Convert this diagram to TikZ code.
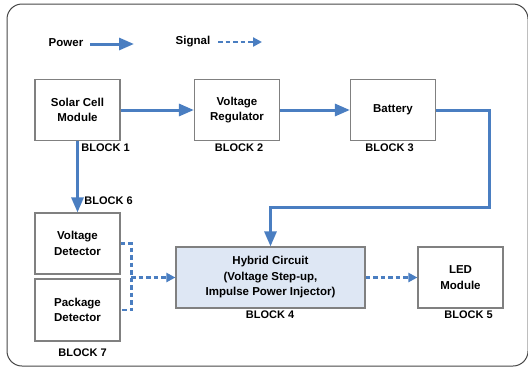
\documentclass[tikz,border=0pt]{standalone}
\usepackage{fontspec}
\setmainfont{Liberation Sans}
\usetikzlibrary{arrows.meta,positioning}
\definecolor{pwrblue}{RGB}{74,126,193}
\definecolor{hybfill}{RGB}{222,231,244}
\definecolor{boxgray}{RGB}{128,128,128}
\definecolor{framegray}{RGB}{70,70,70}
\tikzset{block/.style={draw=boxgray, line width=1.2pt, rectangle, minimum width=85pt, minimum height=61pt, inner sep=2pt, align=center, text=black, font=\fontsize{11.5}{15.5}\selectfont\bfseries},
  tag/.style={inner sep=0pt, font=\fontsize{11}{13}\selectfont\bfseries},
  power/.style={draw=pwrblue, line width=3pt, -{Triangle[length=15pt,width=12pt]}},
  signal/.style={draw=pwrblue, line width=2.3pt, dash pattern=on 4.5pt off 3pt, -{Triangle[length=9pt,width=9pt]}}}

\begin{document}
\begin{tikzpicture}[x=1pt,y=-1pt]
    \useasboundingbox (0,0) rectangle (528,368);
    \draw[framegray, line width=1pt, rounded corners=15pt] (7,4) rectangle (528,366);
    % legend
    \node[tag, font=\fontsize{11.5}{13}\selectfont\bfseries] (Lp) at (66,43) {Power};
    \node[tag, font=\fontsize{11.5}{13}\selectfont\bfseries] (Ls) at (193,42) {Signal};
    \coordinate (p1) at (90,44);  \coordinate (p2) at (134,44);
    \coordinate (s1) at (218,42); \coordinate (s2) at (262,42);
    \draw[power] (p1) -- (p2);
    \draw[signal] (s1) -- (s2);
    % blocks
    \node[block] (B1) at (77.5,110) {Solar Cell\\Module};
    \node[block] (B2) at (237,110) {Voltage\\Regulator};
    \node[block] (B3) at (393,110) {Battery};
    \node[block, fill=hybfill, minimum width=189pt] (B4) at (270.5,277.5) {Hybrid Circuit\\(Voltage Step-up,\\Impulse Power Injector)};
    \node[block] (B5) at (460.5,277.5) {LED\\Module};
    \node[block] (B6) at (77.5,243.5) {Voltage\\Detector};
    \node[block, minimum height=62pt] (B7) at (77.5,310) {Package\\Detector};
    % labels
    \node[tag] (T1) at (105.5,148) {BLOCK 1};
    \node[tag] (T2) at (239,148) {BLOCK 2};
    \node[tag] (T3) at (389.5,148) {BLOCK 3};
    \node[tag] (T4) at (270,315) {BLOCK 4};
    \node[tag] (T5) at (468.5,315) {BLOCK 5};
    \node[tag] (T6) at (108.5,201) {BLOCK 6};
    \node[tag] (T7) at (82.5,353) {BLOCK 7};
    % power flow
    \draw[power] (B1) -- (B2);
    \draw[power] (B2) -- (B3);
    \coordinate (turn) at (270.5,207);
    \draw[power] (B3.east) -- ++(53,0) |- (turn) -- (B4.north);
    \draw[power] (B1.south) -- (B6.north);
    % signals
    \coordinate (join) at (131,277.5);
    \draw[signal, -] (B6.east) -- ++(11,0) |- (B7.east);
    \draw[signal] (join) -- (B4.west);
    \draw[signal] (B4) -- (B5);
\end{tikzpicture}
\end{document}
